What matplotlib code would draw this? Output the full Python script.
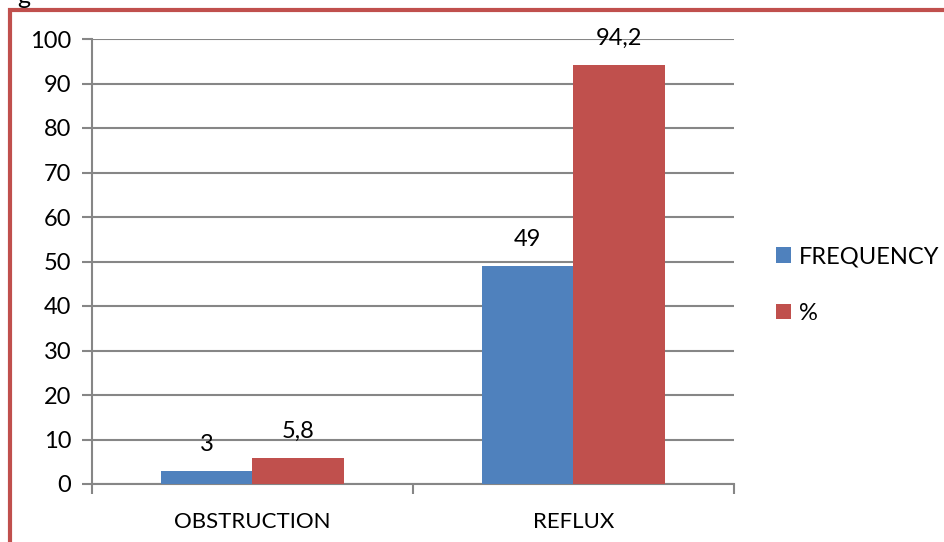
import numpy as np
import matplotlib.pyplot as plt
from matplotlib.patches import Rectangle

plt.rcParams['font.family'] = ['Lato', 'DejaVu Sans']

categories = ["OBSTRUCTION", "REFLUX"]
frequency = [3, 49]
percent = [5.8, 94.2]
percent_labels = ["5,8", "94,2"]
yticks = [0, 10, 20, 30, 40, 50, 60, 70, 80, 90, 100]

blue = "#4f81bd"
red = "#c0504d"
grid = "#868686"

fig = plt.figure(figsize=(9.44, 5.42), dpi=100)
W, H = 944, 542

# red frame around the chart (top and left edges only visible)
fig.add_artist(Rectangle((10 / W, -0.1), 1.2, (H - 10) / H + 0.1, transform=fig.transFigure,
                         fill=False, edgecolor=red, linewidth=3))
fig.text(17 / W, 1.0 - 4 / H, "g", fontsize=18, va="baseline", ha="left")

ax = fig.add_axes([92 / W, (H - 484) / H, (734 - 92) / W, (484 - 39) / H])
x = np.arange(len(categories))
w = 0.285
b1 = ax.bar(x - w / 2, frequency, w, color=blue, label="FREQUENCY", zorder=3)
b2 = ax.bar(x + w / 2, percent, w, color=red, label="%", zorder=3)

for rect, v in zip(b1, frequency):
    ax.text(rect.get_x() + rect.get_width() / 2, v + 3.6, str(v), ha="center", va="bottom", fontsize=17)
for rect, v, s in zip(b2, percent, percent_labels):
    ax.text(rect.get_x() + rect.get_width() / 2, v + 3.6, s, ha="center", va="bottom", fontsize=17)

ax.set_xlim(-0.5, 1.5)
ax.set_ylim(0, 100)
ax.set_yticks(yticks)
ax.set_xticks([-0.5, 0.5, 1.5])
ax.set_xticklabels([])
ax.set_xticks(x, minor=True)
ax.set_xticklabels(categories, minor=True, fontsize=16)
ax.tick_params(axis="x", which="minor", length=0, pad=20)
ax.tick_params(axis="x", which="major", length=7, width=1.5, color=grid)
ax.tick_params(axis="y", length=7, width=1.5, color=grid, labelsize=17, pad=8)
ax.yaxis.grid(True, color=grid, linewidth=1.5, zorder=0)
ax.set_axisbelow(True)
for s in ["top", "right"]:
    ax.spines[s].set_visible(False)
for s in ["left", "bottom"]:
    ax.spines[s].set_color(grid)
    ax.spines[s].set_linewidth(1.5)

ax.legend(loc="upper left", bbox_to_anchor=(1.05, 0.555), frameon=False, fontsize=17,
          handlelength=0.65, handleheight=0.65, handletextpad=0.35, labelspacing=1.5,
          borderaxespad=0)

fig.savefig("out.png", dpi=100)
